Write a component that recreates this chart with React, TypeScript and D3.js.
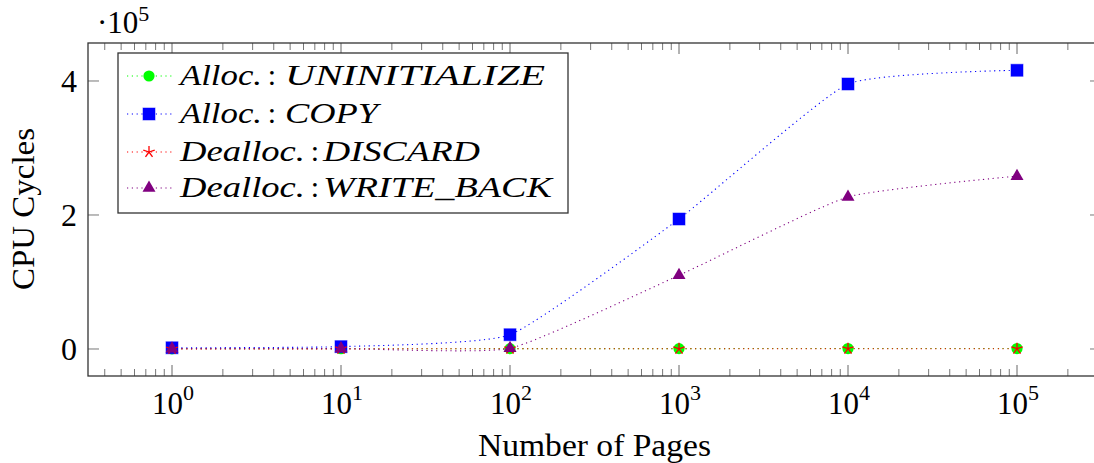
import React from "react";
import * as d3 from "d3";

const pages = [1, 10, 100, 1000, 10000, 100000];
const allocUninit = [300, 400, 500, 600, 700, 700];
const allocCopy = [1800, 3500, 21300, 194000, 395500, 416000];
const deallocDiscard = [200, 250, 300, 350, 400, 400];
const deallocWriteBack = [500, 600, 1000, 110000, 227000, 258000];

const xTickVals = [1, 10, 100, 1000, 10000, 100000];
const xTickExps = ["0", "1", "2", "3", "4", "5"];
const yTickVals = [0, 200000, 400000];
const yTickLabels = ["0", "2", "4"];

const seriesNames = [
  ["Alloc.", "UNINITIALIZE"],
  ["Alloc.", "COPY"],
  ["Dealloc.", "DISCARD"],
  ["Dealloc.", "WRITE_BACK"],
];
const seriesColors = ["#00ff00", "#0000ff", "#ff0000", "#800080"];
const seriesMarkers = ["circle", "square", "star", "triangle"];

const W = 1094;
const H = 463;
const L = 88, T = 43, R = 1101, B = 376;
const FONT = "Liberation Serif";

function Marker({ type, x, y, color }: { type: string; x: number; y: number; color: string }) {
  if (type === "circle") return <circle cx={x} cy={y} r={5.6} fill={color} />;
  if (type === "square")
    return <rect x={x - 6} y={y - 6} width={12} height={12} fill={color} stroke={color} strokeOpacity={0.5} strokeWidth={1} />;
  if (type === "triangle") {
    const s = 13;
    const h = s * 0.866;
    const p = `${x},${y - (2 * h) / 3} ${x - s / 2},${y + h / 3} ${x + s / 2},${y + h / 3}`;
    return <polygon points={p} fill={color} />;
  }
  const r = 6;
  const lines = [];
  for (let i = 0; i < 5; i++) {
    const a = -Math.PI / 2 + (i * 2 * Math.PI) / 5;
    lines.push(<line key={i} x1={x} y1={y} x2={x + r * Math.cos(a)} y2={y + r * Math.sin(a)} stroke={color} strokeWidth={1.3} />);
  }
  return <g>{lines}</g>;
}

export default function App() {
  const x = d3.scaleLog().domain([Math.pow(10, -84 / 169), Math.pow(10, (R - 172) / 169)]).range([L, R]);
  const y = d3.scaleLinear().domain([-40300, 456700]).range([B, T]);
  const series = [allocUninit, allocCopy, deallocDiscard, deallocWriteBack];
  const line = d3
    .line<number>()
    .x((_, i) => x(pages[i]))
    .y((d) => y(d))
    .curve(d3.curveCardinal.tension(0.55));

  const minor: number[] = [];
  for (let e = -1; e <= 5; e++) {
    for (let m = 2; m <= 9; m++) {
      const v = m * Math.pow(10, e);
      const px = x(v);
      if (px > L + 1 && px < R - 1) minor.push(v);
    }
  }

  const legendRows = [
    { base: 85, prefixEnd: 262, colonX: 272, capsStart: 285, capsEnd: 545 },
    { base: 123, prefixEnd: 262, colonX: 272, capsStart: 285, capsEnd: 378 },
    { base: 161, prefixEnd: 305, colonX: 315, capsStart: 323, capsEnd: 480 },
    { base: 197, prefixEnd: 305, colonX: 315, capsStart: 323, capsEnd: 552 },
  ];

  return (
    <div style={{ position: "absolute", left: 0, top: 0 }}>
      <svg width={W} height={H} fontFamily={FONT}>
        {xTickVals.map((v, i) => (
          <g key={"xt" + i} stroke="#666" strokeWidth={1}>
            <line x1={x(v)} x2={x(v)} y1={B} y2={B - 11} />
            <line x1={x(v)} x2={x(v)} y1={T} y2={T + 11} />
          </g>
        ))}
        {minor.map((v, i) => (
          <g key={"xm" + i} stroke="#777" strokeWidth={1}>
            <line x1={x(v)} x2={x(v)} y1={B} y2={B - 7} />
            <line x1={x(v)} x2={x(v)} y1={T} y2={T + 7} />
          </g>
        ))}
        {yTickVals.map((v, i) => (
          <g key={"yt" + i} stroke="#777" strokeWidth={1}>
            <line x1={L} x2={L + 11} y1={y(v)} y2={y(v)} />
            <line x1={R} x2={R - 11} y1={y(v)} y2={y(v)} />
          </g>
        ))}
        {series.map((s, k) => (
          <path key={"l" + k} d={line(s) || ""} fill="none" stroke={seriesColors[k]} strokeWidth={1.1} strokeDasharray="1.2 3.6" />
        ))}
        {series.map((s, k) => (
          <g key={"m" + k}>
            {s.map((v, i) => (
              <Marker key={i} type={seriesMarkers[k]} x={x(pages[i])} y={y(v)} color={seriesColors[k]} />
            ))}
          </g>
        ))}
        <rect x={L} y={T} width={R - L} height={B - T} fill="none" stroke="#333" strokeWidth={1.3} />
        {xTickVals.map((v, i) => (
          <text key={"xl" + i} x={x(v) - 20} y={414} fontSize={31} fill="#000" fontFamily={FONT}>
            10
            <tspan dy={-14} fontSize={22}>{xTickExps[i]}</tspan>
          </text>
        ))}
        {yTickVals.map((v, i) => (
          <text key={"yl" + i} x={77} y={y(v) + 11} fontSize={32} textAnchor="end" fill="#000" fontFamily={FONT}>
            {yTickLabels[i]}
          </text>
        ))}
        <text x={97} y={33} fontSize={31} fill="#000" fontFamily={FONT}>
          {"\u00B710"}
          <tspan dy={-12} fontSize={22}>5</tspan>
        </text>
        <text x={478} y={456} fontSize={32} textLength={233} lengthAdjust="spacingAndGlyphs" fill="#000" fontFamily={FONT}>
          Number of Pages
        </text>
        <text
          transform={`translate(34,290) rotate(-90)`}
          x={0}
          y={0}
          fontSize={32}
          textLength={162}
          lengthAdjust="spacingAndGlyphs"
          fill="#000"
          fontFamily={FONT}
        >
          CPU Cycles
        </text>
        <rect x={118} y={53} width={450} height={160} fill="#fff" stroke="#333" strokeWidth={1.3} />
        {legendRows.map((r, k) => (
          <g key={"lg" + k}>
            <line x1={127} x2={172} y1={r.base - 9} y2={r.base - 9} stroke={seriesColors[k]} strokeWidth={1.1} strokeDasharray="1.2 3.6" />
            <Marker type={seriesMarkers[k]} x={149} y={r.base - 9} color={seriesColors[k]} />
            <text x={180} y={r.base} fontSize={30} fontStyle="italic" textLength={r.prefixEnd - 180} lengthAdjust="spacingAndGlyphs" fill="#000" fontFamily={FONT}>
              {seriesNames[k][0]}
            </text>
            <text x={r.colonX} y={r.base} fontSize={30} textAnchor="middle" fill="#000" fontFamily={FONT}>
              :
            </text>
            <text x={r.capsStart} y={r.base} fontSize={30} fontStyle="italic" textLength={r.capsEnd - r.capsStart} lengthAdjust="spacingAndGlyphs" fill="#000" fontFamily={FONT}>
              {seriesNames[k][1]}
            </text>
          </g>
        ))}
      </svg>
    </div>
  );
}
